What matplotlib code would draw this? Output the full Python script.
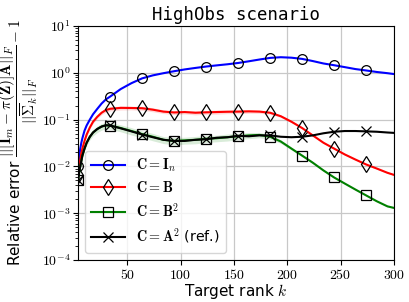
import numpy as np
import matplotlib
matplotlib.use("Agg")
import matplotlib.pyplot as plt
from matplotlib.ticker import FuncFormatter, FixedLocator

plt.rcParams["mathtext.fontset"] = "cm"
plt.rcParams["font.family"] = ["DejaVu Sans"]

# target ranks at which the curves were sampled
k = [4, 5, 6, 7, 8, 10, 12, 15, 18, 22, 26, 30, 34, 44, 54, 64, 74, 84, 94, 104,
     114, 124, 134, 144, 154, 164, 174, 184, 194, 204, 214, 224, 234, 244, 254,
     264, 274, 284, 294, 300]
marker_k = [4, 34, 64, 94, 124, 154, 184, 214, 244, 274]

err_In = [0.010, 0.016, 0.024, 0.032, 0.040, 0.058, 0.075, 0.10, 0.13, 0.17,
          0.22, 0.27, 0.31, 0.45, 0.60, 0.76, 0.88, 0.98, 1.08, 1.18,
          1.27, 1.36, 1.44, 1.52, 1.62, 1.76, 1.92, 2.08, 2.15, 2.10,
          1.98, 1.78, 1.58, 1.45, 1.32, 1.20, 1.12, 1.04, 0.98, 0.94]
err_B = [0.0066, 0.010, 0.014, 0.019, 0.024, 0.035, 0.048, 0.068, 0.090, 0.115,
         0.140, 0.160, 0.170, 0.178, 0.177, 0.175, 0.163, 0.148, 0.142, 0.145,
         0.140, 0.143, 0.145, 0.147, 0.148, 0.150, 0.148, 0.140, 0.118, 0.090,
         0.066, 0.046, 0.032, 0.024, 0.018, 0.014, 0.011, 0.0090, 0.0073, 0.0066]
err_B2 = [0.0050, 0.0075, 0.010, 0.013, 0.017, 0.024, 0.032, 0.043, 0.053, 0.063,
          0.071, 0.075, 0.074, 0.066, 0.057, 0.049, 0.043, 0.037, 0.035, 0.036,
          0.037, 0.039, 0.040, 0.042, 0.044, 0.046, 0.047, 0.043, 0.034, 0.024,
          0.017, 0.012, 0.0082, 0.0058, 0.0043, 0.0032, 0.0024, 0.0018, 0.0014, 0.0013]
err_A2 = [0.0050, 0.0075, 0.010, 0.013, 0.017, 0.024, 0.032, 0.043, 0.053, 0.063,
          0.071, 0.076, 0.075, 0.065, 0.056, 0.048, 0.042, 0.037, 0.035, 0.035,
          0.037, 0.038, 0.041, 0.042, 0.045, 0.044, 0.046, 0.046, 0.043, 0.042,
          0.043, 0.046, 0.051, 0.055, 0.057, 0.057, 0.056, 0.055, 0.053, 0.052]
# relative half-width of the shaded spread
spread_B = [0.02, 0.03, 0.04, 0.05, 0.06, 0.07, 0.08, 0.08, 0.08, 0.08,
            0.09, 0.10, 0.10, 0.10, 0.09, 0.10, 0.10, 0.09, 0.10, 0.09,
            0.10, 0.09, 0.10, 0.09, 0.10, 0.09, 0.08, 0.07, 0.06, 0.05,
            0.04, 0.03, 0.03, 0.03, 0.03, 0.03, 0.03, 0.03, 0.03, 0.03]
spread_B2 = [0.03, 0.04, 0.05, 0.06, 0.08, 0.10, 0.12, 0.14, 0.15, 0.16,
             0.16, 0.16, 0.16, 0.17, 0.18, 0.17, 0.18, 0.17, 0.18, 0.17,
             0.18, 0.17, 0.16, 0.17, 0.16, 0.15, 0.13, 0.11, 0.09, 0.07,
             0.06, 0.05, 0.04, 0.04, 0.03, 0.03, 0.03, 0.03, 0.03, 0.03]

k = np.array(k)
marks = [int(np.where(k == m)[0][0]) for m in marker_k]

fig, ax = plt.subplots(figsize=(4.09, 3.02), dpi=100)
fig.subplots_adjust(left=0.191, right=0.963, top=0.914, bottom=0.139)

series = [
    (err_In, None, "blue", "o", r"$\mathbf{C} = \mathbf{I}_n$"),
    (err_B, spread_B, "red", "d", r"$\mathbf{C} = \mathbf{B}$"),
    (err_B2, spread_B2, "green", "s", r"$\mathbf{C} = \mathbf{B}^2$"),
    (err_A2, None, "black", "x", r"$\mathbf{C} = \mathbf{A}^2$ (ref.)"),
]
for vals, spread, col, mk, lab in series:
    vals = np.array(vals)
    if spread is not None:
        s = np.array(spread)
        ax.fill_between(k, vals * (1 - s), vals * (1 + s), color=col, alpha=0.15, lw=0)
    ms = 8 if mk == "d" else 7
    ax.plot(k, vals, color=col, lw=1.5, marker=mk, markevery=marks, ms=ms,
            mfc="none", mec="black", mew=0.9, label=lab)

ax.set_yscale("log")
ax.set_ylim(1e-4, 10)
ax.set_xlim(4, 300)
ax.xaxis.set_major_locator(FixedLocator([50, 100, 150, 200, 250, 300]))
ax.xaxis.set_major_formatter(FuncFormatter(lambda x, p: f"${int(x)}$"))
ax.yaxis.set_major_formatter(FuncFormatter(lambda y, p: f"$10^{{{int(round(np.log10(y)))}}}$"))
ax.tick_params(labelsize=10, pad=2)
ax.grid(True, which="major", color="#c8c8c8", lw=0.9)
ax.set_axisbelow(True)

ax.set_title("HighObs scenario", fontfamily="DejaVu Sans Mono", fontsize=12.5, pad=4)
ax.set_xlabel(r"Target rank $k$", fontsize=11, labelpad=0)
ax.set_ylabel(r"Relative error $\dfrac{||[\mathbf{I}_m - \pi(\mathbf{Z})]\mathbf{A}||_F}"
              r"{||\overline{\Sigma}_k||_F} - 1$", fontsize=11, labelpad=1)

ax.legend(loc="lower left", fontsize=10.2, handlelength=2.4, labelspacing=0.45,
          borderpad=0.4, fancybox=True, framealpha=0.8)

fig.savefig("out.png", dpi=100)
